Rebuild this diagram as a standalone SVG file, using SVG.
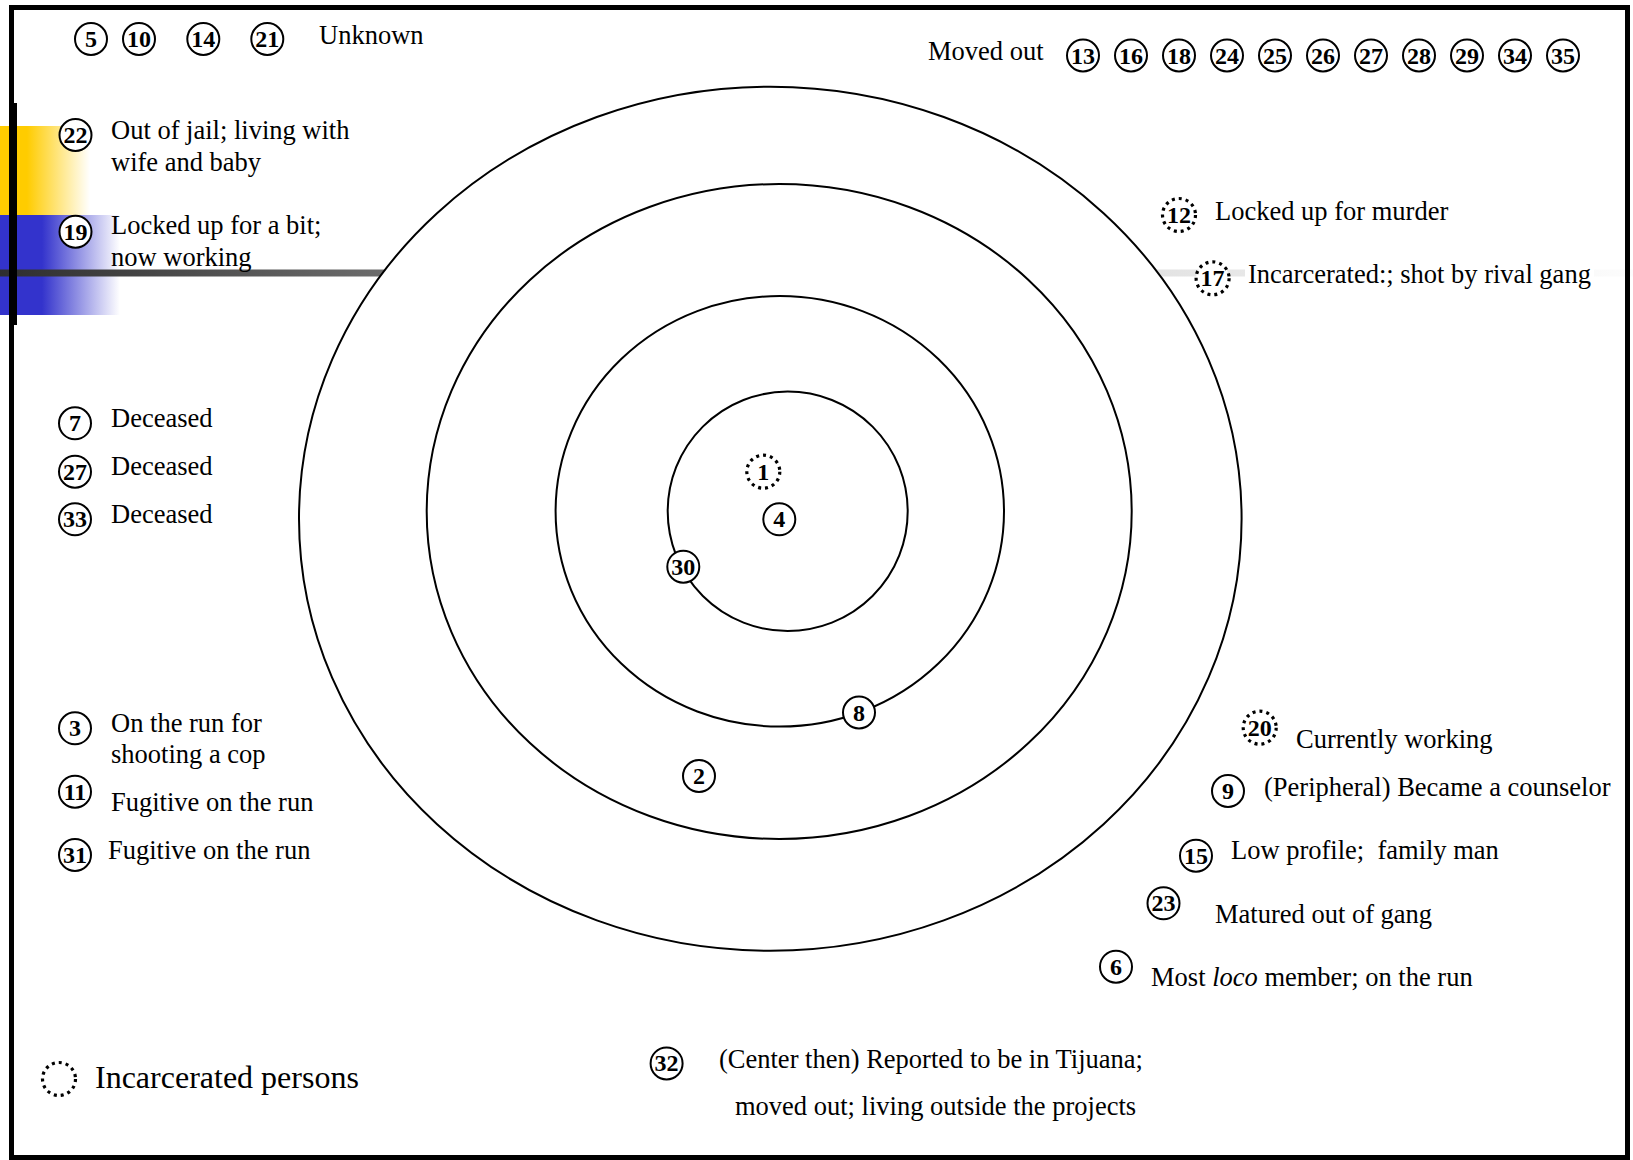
<svg xmlns="http://www.w3.org/2000/svg" width="1633" height="1160" viewBox="0 0 1633 1160">
<style>
.t{font-family:"Liberation Serif","Times New Roman",serif;font-size:26.5px;fill:#000;white-space:pre;}
.n{font-family:"Liberation Serif","Times New Roman",serif;font-weight:bold;font-size:24px;text-anchor:middle;fill:#000;}
.c{fill:#fff;stroke:#000;stroke-width:2;}
.d{fill:#fff;stroke:#000;stroke-width:3.2;stroke-dasharray:3 4;}
.ring{fill:none;stroke:#000;stroke-width:2;}
</style>
<defs>
<linearGradient id="gy" x1="0" y1="0" x2="90" y2="0" gradientUnits="userSpaceOnUse">
<stop offset="0" stop-color="#FFCC00"/><stop offset="0.3" stop-color="#FFCC00"/><stop offset="1" stop-color="#FFCC00" stop-opacity="0"/>
</linearGradient>
<linearGradient id="gb" x1="0" y1="0" x2="120" y2="0" gradientUnits="userSpaceOnUse">
<stop offset="0" stop-color="#3333CC"/><stop offset="0.35" stop-color="#3333CC"/><stop offset="1" stop-color="#3333CC" stop-opacity="0"/>
</linearGradient>
<linearGradient id="gl" x1="0" y1="0" x2="1633" y2="0" gradientUnits="userSpaceOnUse">
<stop offset="0" stop-color="#2e2e2e"/><stop offset="0.24" stop-color="#6e6e6e"/><stop offset="0.71" stop-color="#e3e3e3"/><stop offset="1" stop-color="#fcfcfc"/>
</linearGradient>
</defs>
<rect width="1633" height="1160" fill="#fff"/>
<g id="decoration">
<rect x="0" y="126" width="90" height="89" fill="url(#gy)"/>
<rect x="0" y="215" width="120" height="100" fill="url(#gb)"/>
<rect x="0" y="269.5" width="1633" height="7" fill="url(#gl)"/>
<rect x="10" y="103" width="7" height="222" fill="#000"/>
</g>
<g id="frame"><rect x="11.5" y="7.5" width="1616" height="1150" fill="none" stroke="#000" stroke-width="5"/></g>
<g id="rings">
<ellipse class="ring" cx="770.3" cy="518.7" rx="471.3" ry="432" style="fill:#fff"/>
<ellipse class="ring" cx="779.2" cy="511.5" rx="352.5" ry="327.5"/>
<ellipse class="ring" cx="779.8" cy="511.3" rx="224.2" ry="215.3"/>
<ellipse class="ring" cx="787.7" cy="511.3" rx="120" ry="119.7"/>
</g>
<g id="connectors"/>
<g id="unknown">
<g id="n5"><circle class="c" cx="91" cy="39" r="16"/><text class="n" x="91" y="47">5</text></g>
<g id="n10"><circle class="c" cx="139" cy="39" r="16"/><text class="n" x="139" y="47">10</text></g>
<g id="n14"><circle class="c" cx="203.3" cy="39" r="16"/><text class="n" x="203.3" y="47">14</text></g>
<g id="n21"><circle class="c" cx="267.3" cy="39" r="16"/><text class="n" x="267.3" y="47">21</text></g>
<text class="t" x="319" y="43.5">Unknown</text>
</g>
<g id="movedout">
<text class="t" x="928" y="59.5">Moved out</text>
<g id="n13"><circle class="c" cx="1083" cy="55.5" r="16"/><text class="n" x="1083" y="63.5">13</text></g>
<g id="n16"><circle class="c" cx="1131" cy="55.5" r="16"/><text class="n" x="1131" y="63.5">16</text></g>
<g id="n18"><circle class="c" cx="1179" cy="55.5" r="16"/><text class="n" x="1179" y="63.5">18</text></g>
<g id="n24"><circle class="c" cx="1227" cy="55.5" r="16"/><text class="n" x="1227" y="63.5">24</text></g>
<g id="n25"><circle class="c" cx="1275" cy="55.5" r="16"/><text class="n" x="1275" y="63.5">25</text></g>
<g id="n26"><circle class="c" cx="1323" cy="55.5" r="16"/><text class="n" x="1323" y="63.5">26</text></g>
<g id="n27b"><circle class="c" cx="1371" cy="55.5" r="16"/><text class="n" x="1371" y="63.5">27</text></g>
<g id="n28"><circle class="c" cx="1419" cy="55.5" r="16"/><text class="n" x="1419" y="63.5">28</text></g>
<g id="n29"><circle class="c" cx="1467" cy="55.5" r="16"/><text class="n" x="1467" y="63.5">29</text></g>
<g id="n34"><circle class="c" cx="1515" cy="55.5" r="16"/><text class="n" x="1515" y="63.5">34</text></g>
<g id="n35"><circle class="c" cx="1563" cy="55.5" r="16"/><text class="n" x="1563" y="63.5">35</text></g>
</g>
<g id="n22"><circle class="c" cx="75.5" cy="135" r="16"/><text class="n" x="75.5" y="143">22</text>
<text class="t" x="111" y="139">Out of jail; living with</text><text class="t" x="111" y="171">wife and baby</text></g>
<g id="n19"><circle class="c" cx="75.5" cy="231.7" r="16"/><text class="n" x="75.5" y="239.7">19</text>
<text class="t" x="111" y="234">Locked up for a bit;</text><text class="t" x="111" y="266">now working</text></g>
<g id="n12"><circle class="d" cx="1179" cy="215" r="16.5"/><text class="n" x="1179" y="223">12</text>
<text class="t" x="1215" y="219.5">Locked up for murder</text></g>
<g id="n17"><circle class="d" cx="1212.6" cy="278.3" r="16.5"/><text class="n" x="1212.6" y="286.3">17</text>
<rect x="1245" y="258" width="349" height="32" fill="#fff"/>
<text class="t" x="1248" y="282.5">Incarcerated:; shot by rival gang</text></g>
<g id="n7"><circle class="c" cx="75" cy="423.3" r="16"/><text class="n" x="75" y="431.3">7</text><text class="t" x="111" y="427">Deceased</text></g>
<g id="n27"><circle class="c" cx="75" cy="471.7" r="16"/><text class="n" x="75" y="479.7">27</text><text class="t" x="111" y="475.3">Deceased</text></g>
<g id="n33"><circle class="c" cx="75" cy="519.3" r="16"/><text class="n" x="75" y="527.3">33</text><text class="t" x="111" y="523">Deceased</text></g>
<g id="n3"><circle class="c" cx="75" cy="728.3" r="16"/><text class="n" x="75" y="736.3">3</text>
<text class="t" x="111" y="732">On the run for</text><text class="t" x="111" y="763">shooting a cop</text></g>
<g id="n11"><circle class="c" cx="75" cy="791.7" r="16"/><text class="n" x="75" y="799.7">11</text><text class="t" x="111" y="810.5">Fugitive on the run</text></g>
<g id="n31"><circle class="c" cx="75" cy="855" r="16"/><text class="n" x="75" y="863">31</text><text class="t" x="108" y="858.7">Fugitive on the run</text></g>
<g id="n1"><circle class="d" cx="763.3" cy="471.7" r="16.5"/><text class="n" x="763.3" y="479.7">1</text></g>
<g id="n4"><circle class="c" cx="779.3" cy="519.3" r="16"/><text class="n" x="779.3" y="527.3">4</text></g>
<g id="n30"><circle class="c" cx="683.3" cy="566.7" r="16"/><text class="n" x="683.3" y="574.7">30</text></g>
<g id="n8"><circle class="c" cx="859" cy="712.5" r="16"/><text class="n" x="859" y="720.5">8</text></g>
<g id="n2"><circle class="c" cx="699" cy="776" r="16"/><text class="n" x="699" y="784">2</text></g>
<g id="n20"><circle class="d" cx="1259.7" cy="727.7" r="16.5"/><text class="n" x="1259.7" y="735.7">20</text><text class="t" x="1296" y="747.5">Currently working</text></g>
<g id="n9"><circle class="c" cx="1228" cy="791" r="16"/><text class="n" x="1228" y="799">9</text><text class="t" x="1264" y="795.5">(Peripheral) Became a counselor</text></g>
<g id="n15"><circle class="c" cx="1196" cy="855.7" r="16"/><text class="n" x="1196" y="863.7">15</text><text class="t" x="1231" y="858.8">Low profile;  family man</text></g>
<g id="n23"><circle class="c" cx="1163.5" cy="903.3" r="16"/><text class="n" x="1163.5" y="911.3">23</text><text class="t" x="1215" y="922.5">Matured out of gang</text></g>
<g id="n6"><circle class="c" cx="1116" cy="966.7" r="16"/><text class="n" x="1116" y="974.7">6</text><text class="t" x="1151" y="985.5">Most <tspan font-style="italic">loco</tspan> member; on the run</text></g>
<g id="n32"><circle class="c" cx="666.6" cy="1063.4" r="16"/><text class="n" x="666.6" y="1071.4">32</text>
<text class="t" x="719" y="1067.5">(Center then) Reported to be in Tijuana;</text><text class="t" x="735" y="1115">moved out; living outside the projects</text></g>
<g id="legend"><circle class="d" cx="59" cy="1079" r="16.5"/><text class="t" x="95" y="1087.5" style="font-size:32px">Incarcerated persons</text></g>
</svg>
